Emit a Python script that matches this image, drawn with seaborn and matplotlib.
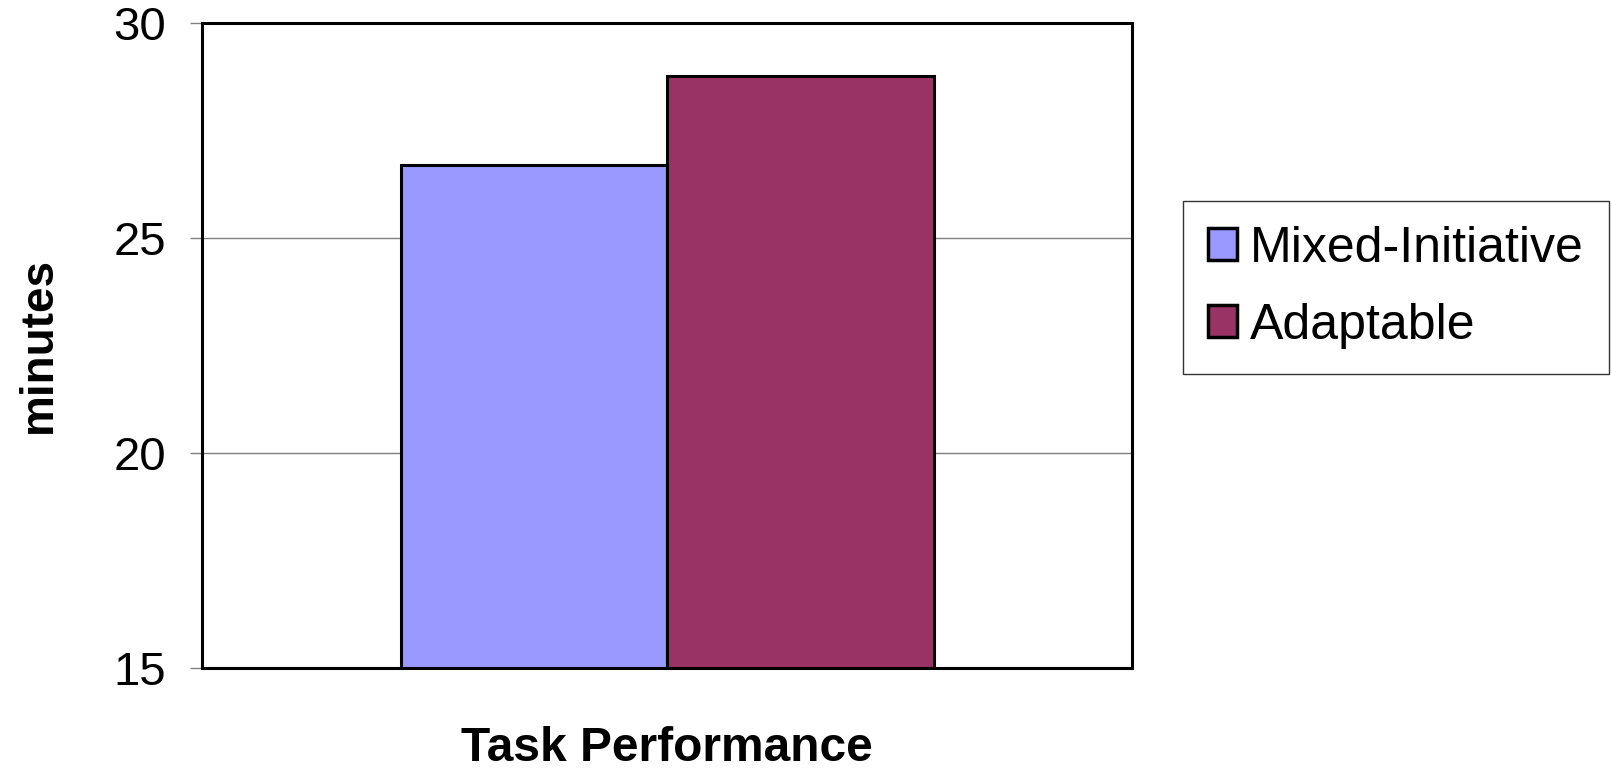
import matplotlib
matplotlib.use("Agg")
import matplotlib.pyplot as plt
import seaborn as sns
import pandas as pd

# Data
categories = ["Task Performance"]
series = ["Mixed-Initiative", "Adaptable"]
minutes = [26.7, 28.75]
colors = ["#9999FF", "#993366"]
yticks = [15, 20, 25, 30]

df = pd.DataFrame({
    "category": [categories[0]] * len(series),
    "condition": series,
    "minutes": minutes,
})

sns.set_theme(style="white")
plt.rcParams["font.family"] = ["Liberation Sans", "DejaVu Sans"]
plt.rcParams["text.color"] = "black"
plt.rcParams["axes.labelcolor"] = "black"
plt.rcParams["ytick.labelcolor"] = "black"

fig = plt.figure(figsize=(16.12, 7.75), dpi=100)
ax = fig.add_axes([0.1256, 0.138, 0.5766, 0.8328])

sns.barplot(
    data=df, x="category", y="minutes", hue="condition",
    palette=colors, hue_order=series, width=0.573,
    edgecolor="black", linewidth=2.2, saturation=1, ax=ax,
    legend=True, zorder=3,
)

ax.set_ylim(15, 30)
ax.set_yticks(yticks)
ax.set_yticklabels([str(t) for t in yticks], fontsize=34)
ax.set_xlim(-0.5, 0.5)
ax.set_xticks([])
ax.set_xlabel(categories[0], fontsize=34.5, fontweight="bold", labelpad=42)
ax.set_ylabel("minutes", fontsize=33, fontweight="bold", labelpad=38)

ax.yaxis.grid(True, color="#808080", linewidth=1.0, zorder=0)
ax.set_axisbelow(True)
ax.tick_params(axis="y", direction="out", length=9, width=1.0,
               color="#808080", left=True, pad=17)
for s in ax.spines.values():
    s.set_color("black")
    s.set_linewidth(2.2)
    s.set_zorder(4)

handles, labels = ax.get_legend_handles_labels()
ax.legend_.remove()
leg = fig.legend(
    handles, labels, loc="center",
    bbox_to_anchor=(0.734, 0.52, 0.264, 0.219), bbox_transform=fig.transFigure,
    mode="expand", borderaxespad=0, fontsize=36, frameon=True, fancybox=False,
    edgecolor="black", handlelength=0.58, handleheight=0.58, handletextpad=0.25,
    labelspacing=0.62, borderpad=0.5,
)
leg.get_frame().set_linewidth(1.0)
for h in leg.legend_handles:
    h.set_edgecolor("black")
    h.set_linewidth(2.5)

fig.savefig("out.png", dpi=100, facecolor="white")
